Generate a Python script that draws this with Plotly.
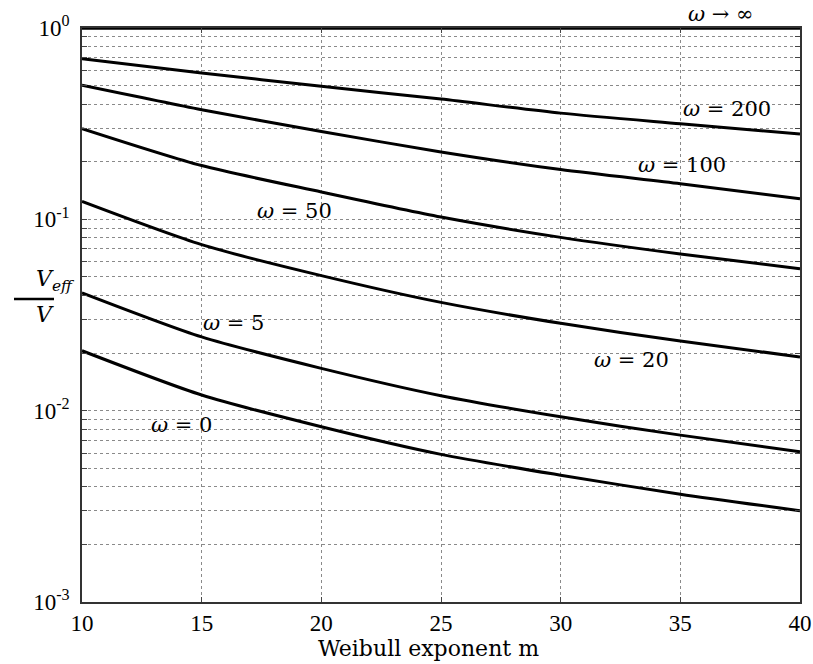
import plotly.graph_objects as go
import numpy as np

m = [10, 15, 20, 25, 30, 35, 40]
w200 = [0.691, 0.582, 0.496, 0.425, 0.359, 0.316, 0.279]
w100 = [0.502, 0.374, 0.288, 0.225, 0.182, 0.1535, 0.128]
w50 = [0.298, 0.191, 0.139, 0.1028, 0.0805, 0.0659, 0.0552]
w20 = [0.124, 0.0737, 0.0508, 0.0368, 0.0286, 0.0231, 0.0191]
w5 = [0.0413, 0.0243, 0.01664, 0.01197, 0.00929, 0.00745, 0.0061]
w0 = [0.02056, 0.01207, 0.00824, 0.00591, 0.0046, 0.00366, 0.0030]
winf = [1.0] * 7

labels = ["ω = 200", "ω = 100", "ω = 50", "ω = 20", "ω = 5", "ω = 0"]
label_m = [36.95, 35.09, 18.86, 32.94, 16.33, 14.16]
label_logy = [-0.4234, -0.716, -0.9566, -1.7355, -1.542, -2.075]

xticks = [10, 15, 20, 25, 30, 35, 40]
ymaj_text = ["10<sup>-3</sup>", "10<sup>-2</sup>", "10<sup>-1</sup>", "10<sup>0</sup>"]

tfont = "Liberation Serif"
lfont = "DejaVu Serif"
fig = go.Figure()
for s in [w200, w100, w50, w20, w5, w0]:
    fig.add_trace(go.Scatter(x=m, y=s, mode="lines",
                             line=dict(color="black", width=3, shape="spline", smoothing=0.7),
                             showlegend=False))
fig.add_trace(go.Scatter(x=m, y=winf, mode="lines", line=dict(color="black", width=3.5),
                         showlegend=False, cliponaxis=False))

yvals, ytext = [], []
for d in range(-3, 0):
    for k in range(1, 10):
        yvals.append(k * 10.0**d)
        ytext.append(ymaj_text[d + 3] if k == 1 else "")
yvals.append(1.0)
ytext.append(ymaj_text[3])

fig.update_layout(
    width=813, height=664,
    margin=dict(l=82, r=13, t=28, b=62),
    plot_bgcolor="white", paper_bgcolor="white",
    font=dict(family=tfont, color="black", size=22),
    xaxis=dict(range=[10, 40], tickvals=xticks, ticks="inside", ticklen=5, tickcolor="#444",
               showgrid=True, gridcolor="#8a8a8a", griddash="dot", gridwidth=1,
               showline=True, linecolor="#333", linewidth=1.5, mirror="ticks",
               zeroline=False, tickfont=dict(size=23, family=tfont), automargin=False,
               ticklabelstandoff=0),
    yaxis=dict(type="log", range=[-3, 0], tickvals=yvals, ticktext=ytext,
               ticks="inside", ticklen=5, tickcolor="#444",
               showgrid=True, gridcolor="#8a8a8a", griddash="dot", gridwidth=1,
               showline=True, linecolor="#333", linewidth=1.5, mirror="ticks",
               zeroline=False, tickfont=dict(size=23, family=tfont), automargin=False,
               ticklabelstandoff=6),
)

# x-axis title
fig.add_annotation(x=0.483, y=-0.081, xref="paper", yref="paper", yanchor="middle",
                   text="Weibull exponent m", showarrow=False,
                   font=dict(size=22, family=lfont))

for t, xm, ly in zip(labels, label_m, label_logy):
    fig.add_annotation(x=xm, y=ly, text=t.replace("ω", "<i>ω</i>"), showarrow=False,
                       font=dict(size=21, family=lfont))
fig.add_annotation(x=36.69, y=1, yref="paper", yanchor="middle", yshift=14,
                   text="<i>ω</i> → ∞", showarrow=False, font=dict(size=21, family=lfont))

# y-axis label as fraction
fig.add_annotation(x=-0.0669, y=0.5279, xref="paper", yref="paper", yshift=2,
                   text="<i>V<sub>eff</sub></i>", showarrow=False,
                   font=dict(size=22, family=lfont), yanchor="bottom")
fig.add_annotation(x=-0.0669, y=0.5279, xref="paper", yref="paper", yshift=-1,
                   text="<i>V</i>", showarrow=False,
                   font=dict(size=22, family=lfont), yanchor="top")
fig.add_shape(type="line", xref="paper", yref="paper", x0=-0.0947, x1=-0.039,
              y0=0.5279, y1=0.5279, line=dict(color="black", width=2.5))

fig.write_html("out.html")
